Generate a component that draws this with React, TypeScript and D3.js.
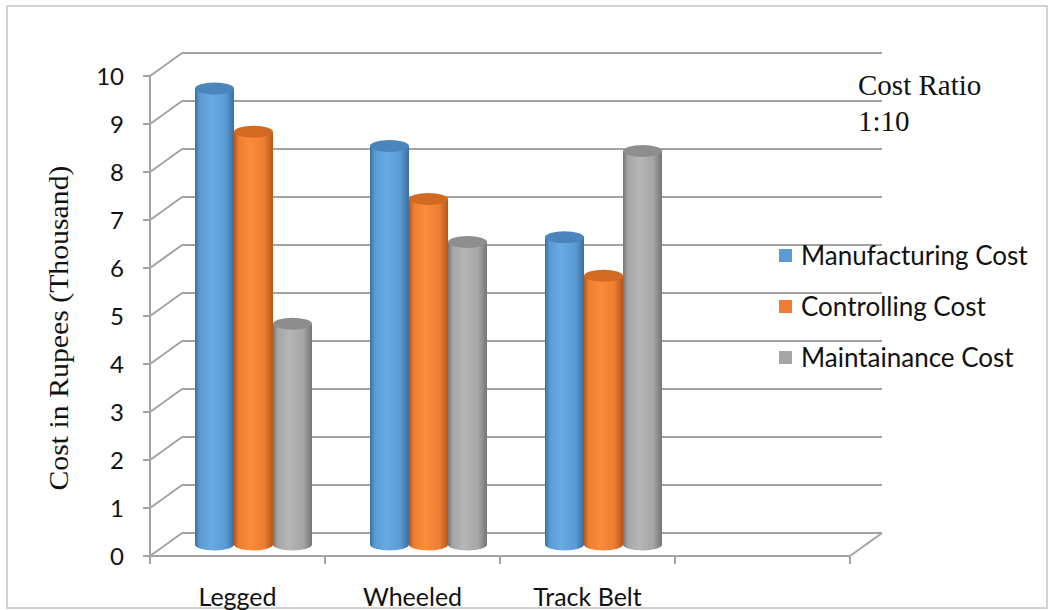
import { scaleBand, scaleLinear } from 'd3'

// 3D-style clustered cylinder chart: cost per locomotion type.
const categories = ['Legged', 'Wheeled', 'Track Belt', '']
const seriesNames = ['Manufacturing Cost', 'Controlling Cost', 'Maintainance Cost']
const manufacturingCost = [9.5, 8.3, 6.4]
const controllingCost = [8.6, 7.2, 5.6]
const maintainanceCost = [4.6, 6.3, 8.2]
const yTickValues = [0, 1, 2, 3, 4, 5, 6, 7, 8, 9, 10]
const noteLines = ['Cost Ratio', '1:10']

const series = [manufacturingCost, controllingCost, maintainanceCost]

const W = 1051
const H = 610
const FRONT = { left: 150, right: 850, top: 76, bottom: 556 }
const DEPTH = { dx: 32, dy: 23 }
const GROUP_W = 117
const RY = 6

const PALETTE = [
  { dark: '#3b6f9f', mid: '#5b9bd5', light: '#6aaae2', top: '#4a85bd', key: '#5b9bd5' },
  { dark: '#b8561a', mid: '#ed7d31', light: '#fb8c3a', top: '#d36a24', key: '#ed7d31' },
  { dark: '#747474', mid: '#a5a5a5', light: '#b6b6b6', top: '#8e8e8e', key: '#a5a5a5' },
]

const GRID = '#a3a3a3'
const SANS = 'Lato, "Open Sans", sans-serif'
const SERIF = '"Liberation Serif", "DejaVu Serif", serif'

export default function App() {
  const yFront = scaleLinear().domain([0, 10]).range([FRONT.bottom, FRONT.top])
  const xFront = scaleBand().domain(categories).range([FRONT.left, FRONT.right])
  const midDx = DEPTH.dx / 2
  const midDy = DEPTH.dy / 2

  const inner = scaleBand<number>()
    .domain(seriesNames.map((_, i) => i))
    .range([-GROUP_W / 2, GROUP_W / 2])

  const bars = categories
    .filter((c) => c !== '')
    .flatMap((cat, ci) =>
      series.map((vals, si) => {
        const cx = (xFront(cat) ?? 0) + xFront.bandwidth() / 2 + midDx
        const x0 = cx + (inner(si) ?? 0)
        const w = inner.bandwidth()
        const yTop = yFront(vals[ci]) - midDy
        const yBot = yFront(0) - midDy
        return { key: `${cat}-${si}`, si, x0, w, yTop, yBot }
      }),
    )

  const catTicks = [...categories.map((c) => xFront(c) ?? 0), FRONT.right]

  return (
    <svg
      width={W}
      height={H}
      viewBox={`0 0 ${W} ${H}`}
      style={{ position: 'absolute', left: 0, top: 0, background: '#fff' }}
    >
      <defs>
        {PALETTE.map((p, i) => (
          <linearGradient key={i} id={`cyl${i}`} x1="0" x2="1" y1="0" y2="0">
            <stop offset="0" stopColor={p.dark} />
            <stop offset="0.12" stopColor={p.mid} />
            <stop offset="0.42" stopColor={p.light} />
            <stop offset="0.78" stopColor={p.mid} />
            <stop offset="1" stopColor={p.dark} />
          </linearGradient>
        ))}
      </defs>

      <rect x={7} y={6} width={1040} height={602} fill="none" stroke="#c4c4c4" strokeWidth={1.5} />

      {/* back wall gridlines + side wall diagonals */}
      {yTickValues.map((t) => {
        const yf = yFront(t)
        return (
          <g key={t} stroke={GRID} strokeWidth={2} fill="none">
            <line x1={FRONT.left + DEPTH.dx} x2={FRONT.right + DEPTH.dx} y1={yf - DEPTH.dy} y2={yf - DEPTH.dy} />
            <line x1={FRONT.left} y1={yf} x2={FRONT.left + DEPTH.dx} y2={yf - DEPTH.dy} />
            <line x1={FRONT.left - 7} x2={FRONT.left} y1={yf} y2={yf} />
          </g>
        )
      })}

      {/* front axis + floor */}
      <g stroke={GRID} strokeWidth={2} fill="none">
        <line x1={FRONT.left} x2={FRONT.left} y1={FRONT.top} y2={FRONT.bottom} />
        <line x1={FRONT.left} x2={FRONT.right} y1={FRONT.bottom} y2={FRONT.bottom} />
        <line
          x1={FRONT.right}
          y1={FRONT.bottom}
          x2={FRONT.right + DEPTH.dx}
          y2={FRONT.bottom - DEPTH.dy}
        />
        {catTicks.map((x, i) => (
          <line key={i} x1={x} x2={x} y1={FRONT.bottom} y2={FRONT.bottom + 8} />
        ))}
      </g>

      {/* y tick labels */}
      {yTickValues.map((t) => (
        <text
          key={t}
          x={124}
          y={yFront(t)}
          dy="0.36em"
          textAnchor="end"
          fontFamily={SANS}
          fontSize={24}
          fill="#111"
        >
          {t}
        </text>
      ))}

      <text
        transform={`translate(68, ${(FRONT.top + FRONT.bottom) / 2 + 12}) rotate(-90)`}
        textAnchor="middle"
        fontFamily={SERIF}
        fontSize={27}
        textLength={325}
        lengthAdjust="spacingAndGlyphs"
        fill="#111"
      >
        Cost in Rupees (Thousand)
      </text>

      {/* category labels */}
      {categories.map((c) =>
        c ? (
          <text
            key={c}
            x={(xFront(c) ?? 0) + xFront.bandwidth() / 2}
            y={606}
            textAnchor="middle"
            fontFamily={SANS}
            fontSize={25}
            fill="#111"
          >
            {c}
          </text>
        ) : null,
      )}

      {/* cylinders */}
      {bars.map((b) => {
        const rx = b.w / 2
        const p = PALETTE[b.si]
        const body = `M${b.x0},${b.yTop} L${b.x0},${b.yBot} A${rx},${RY} 0 0 0 ${b.x0 + b.w},${b.yBot} L${b.x0 + b.w},${b.yTop} Z`
        return (
          <g key={b.key}>
            <path d={body} fill={`url(#cyl${b.si})`} />
            <ellipse cx={b.x0 + rx} cy={b.yTop} rx={rx} ry={RY} fill={p.top} />
          </g>
        )
      })}

      {/* legend */}
      {seriesNames.map((name, i) => {
        const y = 256 + i * 51
        return (
          <g key={name}>
            <rect x={779} y={y - 7} width={13} height={13} fill={PALETTE[i].key} />
            <text x={801} y={y} dy="0.36em" fontFamily={SANS} fontSize={26} fill="#111">
              {name}
            </text>
          </g>
        )
      })}

      {noteLines.map((line, i) => (
        <text key={line} x={858} y={95 + i * 36} fontFamily={SERIF} fontSize={29} fill="#111">
          {line}
        </text>
      ))}
    </svg>
  )
}
